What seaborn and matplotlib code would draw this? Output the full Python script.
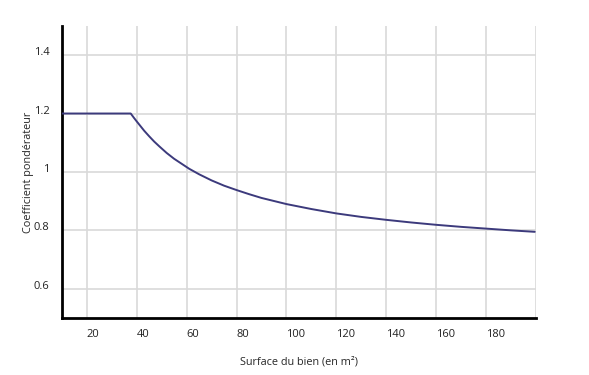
import pandas as pd
import seaborn as sns
import matplotlib.pyplot as plt

# valeurs
surface = [10, 20, 30, 37.6, 39, 40, 41.5, 43, 45, 47, 49, 52, 55, 58, 61,
           65, 70, 75, 80, 85, 90, 100, 110, 120, 130, 140, 150, 160, 170,
           180, 190, 199.5]
coef = [1.2, 1.2, 1.2, 1.2, 1.184, 1.173, 1.157, 1.141, 1.122, 1.104,
        1.088, 1.065, 1.045, 1.028, 1.011, 0.992, 0.971, 0.953, 0.938,
        0.924, 0.911, 0.89, 0.873, 0.858, 0.846, 0.836, 0.827, 0.819,
        0.812, 0.806, 0.8, 0.795]

x_ticks = [20, 40, 60, 80, 100, 120, 140, 160, 180]
y_ticks = [0.6, 0.8, 1.0, 1.2, 1.4]
y_labels = ["0.6", "0.8", "1", "1.2", "1.4"]


def main():
    df = pd.DataFrame({"Surface": surface, "Coef": coef})

    sns.set_theme(style="white")
    plt.rcParams["font.family"] = ["Open Sans", "DejaVu Sans"]

    fig = plt.figure(figsize=(5.89, 3.75), dpi=100)
    ax = fig.add_axes([0.105, 0.152, 0.805, 0.779])

    # grille
    for xv in x_ticks + [200]:
        ax.axvline(xv, color="#d9d9d9", lw=1.2, zorder=0)
    for yv in y_ticks:
        ax.axhline(yv, color="#d9d9d9", lw=1.2, zorder=0)

    sns.lineplot(data=df, x="Surface", y="Coef", ax=ax, color="#3c3a7c",
                 linewidth=1.4, zorder=3)

    ax.set_xlim(10, 200)
    ax.set_ylim(0.5, 1.5)

    ax.set_xticks(x_ticks)
    ax.set_xticklabels([str(v) for v in x_ticks], fontsize=8, ha="left")
    ax.set_yticks(y_ticks)
    ax.set_yticklabels(y_labels, fontsize=8, va="baseline")
    ax.tick_params(axis="both", length=0, colors="#222222")
    ax.tick_params(axis="x", pad=8)
    ax.tick_params(axis="y", pad=9)

    for side in ["top", "right"]:
        ax.spines[side].set_visible(False)
    for side in ["left", "bottom"]:
        ax.spines[side].set_color("black")
        ax.spines[side].set_linewidth(2)

    ax.set_xlabel("Surface du bien (en m²)", fontsize=7.8, labelpad=12)
    ax.set_ylabel("Coefficient pondérateur", fontsize=7.8, labelpad=0)

    fig.savefig("out.png", dpi=100)
    plt.close(fig)


if __name__ == "__main__":
    main()
